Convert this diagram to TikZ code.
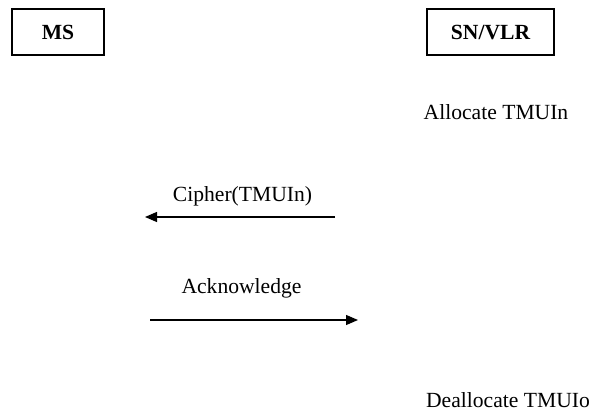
\documentclass[tikz,border=0pt]{standalone}
\usepackage{fontspec}
\setmainfont{Liberation Serif}
\usetikzlibrary{arrows.meta}
\begin{document}
\begin{tikzpicture}[x=1pt,y=-1pt,
  every node/.style={font=\fontsize{21.6}{26}\selectfont},
  entity/.style={draw=black,line width=1.3pt,minimum width=#1,minimum height=46pt,inner sep=0pt,
    font=\fontsize{21.6}{26}\selectfont\bfseries,text height=14.3pt,text depth=0pt},
  lbl/.style={anchor=base,inner sep=0pt},
  msg/.style={line width=1.2pt,-{Triangle[length=12pt,width=10pt]}}]
\useasboundingbox (0,0) rectangle (594,414);
\node[entity=92pt] (ms) at (58,32) {MS};
\node[entity=127pt] (sn) at (490.5,32) {SN/VLR};
\node[lbl] (alloc) at (496,119.3) {Allocate TMUIn};
\node[lbl] (ciph) at (242.5,201.7) {Cipher(TMUIn)};
\coordinate (c1) at (335,217);
\coordinate (c2) at (145,217);
\draw[msg] (c1) -- (c2);
\node[lbl] (ack) at (241.5,293.5) {Acknowledge};
\coordinate (a1) at (150,320);
\coordinate (a2) at (358,320);
\draw[msg] (a1) -- (a2);
\node[lbl] (dealloc) at (508,407) {Deallocate TMUIo};
\end{tikzpicture}
\end{document}
